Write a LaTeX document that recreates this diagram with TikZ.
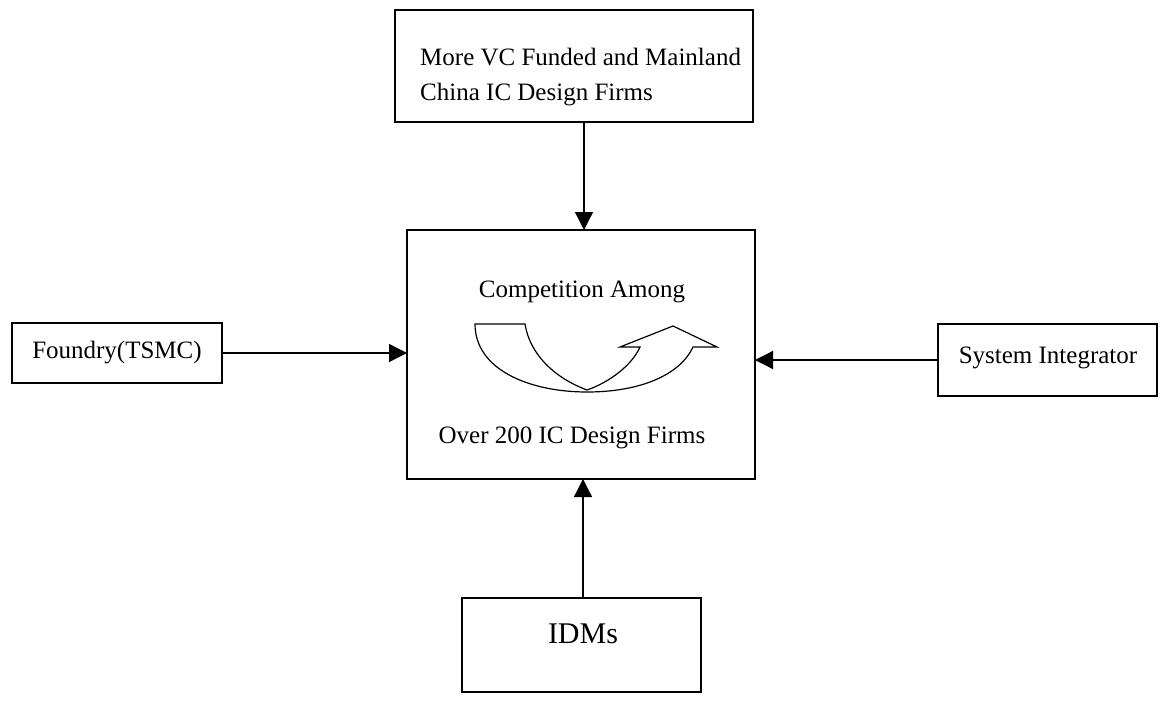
\documentclass[tikz,border=0pt]{standalone}
\usepackage{fontspec}
\setmainfont{Liberation Serif}
\usetikzlibrary{arrows.meta}
\begin{document}
\begin{tikzpicture}[x=1pt,y=-1pt,
  box/.style={draw,line width=1.3pt,rectangle,inner sep=0pt,outer sep=0pt},
  lbl/.style={font=\fontsize{25}{30}\selectfont,inner sep=0pt},
  arr/.style={line width=1.3pt,-{Triangle[length=18pt,width=18pt]}}]
\useasboundingbox (0,0) rectangle (1159,701);
% boxes
\node[box,minimum width=358pt,minimum height=112pt] (top) at (574,66) {};
\node[box,minimum width=348pt,minimum height=249pt] (main) at (581,354.5) {};
\node[box,minimum width=210pt,minimum height=60pt,lbl] (fd) at (117,353) {Foundry(TSMC)};
\node[box,minimum width=219pt,minimum height=72pt] (si) at (1047.5,360) {};
\node[box,minimum width=239pt,minimum height=94pt] (idm) at (581.5,645) {};
% texts
\node[lbl,anchor=base west] (t1) at (420,66) {More VC Funded and Mainland};
\node[lbl,anchor=base west] (t2) at (420,100) {China IC Design Firms};
\node[lbl,anchor=base] (c1) at (582,297) {Competition Among};
\node[lbl,anchor=base] (c2) at (572,443) {Over 200 IC Design Firms};
\node[lbl,anchor=base] (sit) at (1048,363) {System Integrator};
\node[anchor=base,inner sep=0pt,font=\fontsize{30}{36}\selectfont] (idt) at (583,643) {IDMs};
% connectors
\draw[arr] ([xshift=10pt]top.south) -- ([xshift=10pt]top.south |- main.north);
\draw[arr] (fd.east) -- (fd.east -| main.west);
\draw[arr] (si.west) -- (si.west -| main.east);
\draw[arr] ([xshift=1.5pt]idm.north) -- ([xshift=1.5pt]idm.north |- main.south);
% U-turn arrow
\draw[line width=1.2pt,line join=miter]
  (475,324) .. controls (475,370) and (530,392) .. (587,392)
  .. controls (640,392) and (680,375) .. (693,347)
  -- (717,347) -- (673,326) -- (620,347) -- (640,347)
  .. controls (632,365) and (610,382) .. (587,390)
  .. controls (555,378) and (530,355) .. (525,324)
  -- cycle;
\end{tikzpicture}
\end{document}
